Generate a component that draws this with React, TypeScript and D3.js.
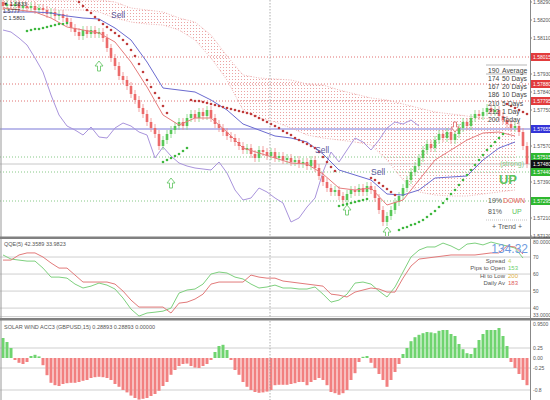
import React from "react";
import * as d3 from "d3";

// ---------- main price data (one close per bar) ----------
const firstOpen = 1.5829;
const closes = [
  1.5827, 1.5828, 1.5827, 1.5828, 1.5826, 1.5827, 1.5826, 1.5827, 1.5825, 1.5826,
  1.5825, 1.5823, 1.5824, 1.5822, 1.5823, 1.5821, 1.5819, 1.5816, 1.5814, 1.5812,
  1.5815, 1.5813, 1.5815, 1.5813, 1.5814, 1.5811, 1.5806, 1.5801, 1.5797, 1.5792,
  1.579, 1.5787, 1.5783, 1.578, 1.5776, 1.5773, 1.5769, 1.5766, 1.5763, 1.5757,
  1.576, 1.5763, 1.5765, 1.5767, 1.5769, 1.5767, 1.5771, 1.5773, 1.5771, 1.5774,
  1.5772, 1.5775, 1.5771, 1.5768, 1.5766, 1.5764, 1.5762, 1.5761, 1.5759, 1.5757,
  1.5755, 1.5756, 1.5753, 1.5751, 1.5755, 1.5754, 1.5752, 1.5754, 1.5751, 1.5752,
  1.575, 1.5751, 1.5749, 1.575, 1.5748, 1.5749, 1.5747, 1.575, 1.5746, 1.5742,
  1.5739, 1.5736, 1.5734, 1.5735, 1.5732, 1.573, 1.5733, 1.5735, 1.5734, 1.5736,
  1.5734, 1.5737, 1.5735, 1.5731, 1.5725, 1.5719, 1.5722, 1.5725, 1.5729, 1.5732,
  1.5736, 1.574, 1.5744, 1.5747, 1.5751, 1.5755, 1.5758, 1.5756, 1.576, 1.5763,
  1.5761, 1.5764, 1.576, 1.5763, 1.5766, 1.5769, 1.5767, 1.5771, 1.5773, 1.5772,
  1.5774, 1.5776, 1.5774, 1.5775, 1.5772, 1.577, 1.5768, 1.5766, 1.5767, 1.5764,
  1.5757, 1.5748,
];
const wickSize = 0.0002;

// lines sampled every 4 bars
const kijunBlue = [
  1.5824, 1.5824, 1.5824, 1.58235, 1.5822, 1.5821, 1.58205, 1.5816, 1.581, 1.5799,
  1.5786, 1.5785, 1.5784, 1.578, 1.5775, 1.5768, 1.5765, 1.5762, 1.5761, 1.5759,
  1.5753, 1.5745, 1.57425, 1.574, 1.5733, 1.57325, 1.5735, 1.5741, 1.57415, 1.5742,
  1.575, 1.5756, 1.5759,
];
const tenkanRed = [
  1.5826, 1.5825, 1.5824, 1.5821, 1.58165, 1.5815, 1.58135, 1.5809, 1.5799, 1.57865,
  1.57725, 1.57675, 1.5771, 1.5771, 1.5764, 1.5756, 1.57535, 1.5751, 1.57485, 1.5748,
  1.5743, 1.5736, 1.5735, 1.5736, 1.57275, 1.573, 1.574, 1.575, 1.5755, 1.576,
  1.57635, 1.5764, 1.5762,
];
// lagging line sampled every 2 bars
const chikouPurple = [
  1.5815, 1.5814, 1.5811, 1.58075, 1.5801, 1.5794, 1.57825, 1.57725, 1.5767, 1.5765,
  1.57625, 1.57665, 1.57615, 1.5761, 1.5766, 1.57685, 1.5767, 1.5764, 1.57625, 1.5751,
  1.57565, 1.5752, 1.57485, 1.5747, 1.5746, 1.57455, 1.5745, 1.5749, 1.57435, 1.5735,
  1.573, 1.5731, 1.5736, 1.5734, 1.5731, 1.57285, 1.5719, 1.5721, 1.57265, 1.5731,
  1.5744, 1.5754, 1.5749, 1.5755, 1.5761, 1.5759, 1.5755, 1.576, 1.5766, 1.5769,
  1.5768, 1.577, 1.5767,
];
// cloud sampled every 4 bars
const cloudTop = [
  1.583, 1.583, 1.583, 1.583, 1.583, 1.583, 1.583, 1.5829, 1.5826, 1.5825,
  1.5824, 1.5821, 1.5819, 1.58125, 1.5802, 1.57925, 1.5791, 1.57905, 1.579, 1.5788,
  1.57875, 1.5785, 1.5783, 1.5781, 1.578, 1.5778, 1.5776, 1.5774, 1.5773, 1.5772,
  1.5771, 1.577, 1.5769,
];
const cloudBottom = [
  1.5826, 1.5826, 1.58255, 1.5825, 1.5825, 1.5825, 1.5824, 1.5821, 1.5819, 1.5818,
  1.58175, 1.5815, 1.581, 1.5801, 1.579, 1.5775, 1.5771, 1.5769, 1.5766, 1.57625,
  1.5761, 1.576, 1.5759, 1.57575, 1.575, 1.574, 1.5734, 1.57325, 1.5732, 1.5732,
  1.5733, 1.5734, 1.5735,
];

// parabolic SAR runs
const sarUpA = [1.58145, 1.5815, 1.58155, 1.58155, 1.5816, 1.58165, 1.5817, 1.58175, 1.5818, 1.5818, 1.58185];
const sarDownA = [
  1.5829, 1.5827, 1.5825, 1.58235, 1.58215, 1.582, 1.5818, 1.58165, 1.5815, 1.58135,
  1.5812, 1.581, 1.5808, 1.5805, 1.5802, 1.5798, 1.5794, 1.579, 1.57865, 1.57835,
  1.5781, 1.5777, 1.57735,
];
const sarUpB = [1.5749, 1.575, 1.5751, 1.5752, 1.5753, 1.57545, 1.5756];
const sarDownB = [
  1.578, 1.57795, 1.57795, 1.5779, 1.57785, 1.5778, 1.57775, 1.5777, 1.57765, 1.5776,
  1.57755, 1.5775, 1.57745, 1.5774, 1.57735, 1.5773, 1.5772, 1.5771, 1.577, 1.5769,
  1.5768, 1.5767, 1.5766, 1.57645, 1.57635, 1.57625, 1.5761, 1.576, 1.5759, 1.5758,
  1.5757, 1.5756, 1.5754, 1.57515, 1.5749, 1.57465, 1.57445,
];
const sarUpC = [1.5727, 1.57275, 1.5728, 1.57285, 1.5729, 1.57295, 1.573, 1.57305];
const sarDownC = [1.5741, 1.574, 1.57385, 1.5737, 1.57355, 1.5734, 1.57325];
const sarUpD = [
  1.5715, 1.5716, 1.57165, 1.57175, 1.5718, 1.5719, 1.572, 1.57215, 1.5723, 1.57245,
  1.57265, 1.57285, 1.57305, 1.5733, 1.5735, 1.57375, 1.574, 1.57425, 1.5745, 1.57475,
  1.575, 1.57525, 1.5755, 1.5757, 1.5759, 1.5761, 1.5763,
];
const sarDownD = [1.5778, 1.5777, 1.5776, 1.5775, 1.5774, 1.5773];
const sarRuns = [
  { start: 6, up: true, values: sarUpA },
  { start: 19, up: false, values: sarDownA },
  { start: 40, up: true, values: sarUpB },
  { start: 47, up: false, values: sarDownB },
  { start: 84, up: true, values: sarUpC },
  { start: 92, up: false, values: sarDownC },
  { start: 99, up: true, values: sarUpD },
  { start: 126, up: false, values: sarDownD },
];

const sellSignals = [
  { bar: 27, price: 1.5821 },
  { bar: 78, price: 1.57535 },
  { bar: 92, price: 1.57425 },
];
const upArrows = [
  { bar: 24, price: 1.5797 },
  { bar: 42, price: 1.57385 },
  { bar: 86, price: 1.5725 },
  { bar: 96, price: 1.5714 },
];
const downArrows = [{ bar: 113, price: 1.57665 }];

const redLevels = [1.58015, 1.5788, 1.57795];
const blueLevels = [1.57655];
const greenLevels = [1.57515, 1.5744, 1.57295];
const priceTicks = [
  1.5829, 1.582, 1.5811, 1.5802, 1.5793, 1.5784, 1.5775, 1.5766, 1.5757, 1.5748,
  1.5739, 1.573, 1.5721, 1.5712,
];

const statsNums = ["190", "174", "167", "186", "210", "212", "200"];
const statsLabels = ["Average", "50 Days", "20 Days", "10 Days", "5 Days", "1 Day", "Today"];

// ---------- oscillator (every 2 bars) ----------
const qqeFast = [
  71.2, 68.8, 68.2, 67.6, 67.6, 63.5, 58.2, 58.2, 57.6, 54.1,
  51.8, 52.9, 54.7, 53.5, 51.2, 45.9, 39.4, 35.3, 37.1, 37.6,
  38.2, 40.0, 48.8, 50.6, 51.2, 54.1, 60.0, 61.2, 60.6, 58.2,
  57.1, 54.1, 51.8, 52.4, 53.5, 51.8, 51.8, 51.2, 51.2, 52.4,
  48.2, 43.5, 44.7, 48.2, 54.7, 55.3, 54.1, 50.0, 46.5, 52.4,
  61.2, 70.0, 74.1, 75.9, 75.9, 78.2, 76.5, 74.1, 77.6, 78.2,
  77.1, 78.8, 77.6, 76.5, 75.3, 69.4,
];
const qqeSlow = [
  68.2, 68.2, 71.2, 72.4, 72.4, 70.0, 66.5, 63.5, 63.5, 59.4,
  55.3, 55.3, 55.3, 55.3, 54.1, 50.0, 44.7, 40.6, 40.6, 40.6,
  40.6, 37.1, 42.9, 43.5, 45.3, 48.2, 54.1, 55.3, 55.3, 55.3,
  55.3, 59.4, 58.2, 57.6, 57.6, 55.9, 55.3, 54.7, 54.1, 53.5,
  52.9, 48.2, 47.6, 46.5, 49.4, 50.6, 51.8, 51.2, 49.4, 49.4,
  57.6, 64.7, 68.8, 69.4, 70.0, 70.6, 71.2, 71.2, 71.2, 71.2,
  71.8, 72.4, 72.4, 76.5, 75.9, 71.8,
];
const qqeLevels = [70, 60, 50, 40, 35];
const infoLabels = ["Spread", "Pips to Open", "Hi to Low", "Daily Av"];
const infoValues = ["4", "153", "200", "183"];
const infoColors = ["#c8d860", "#6ccf6c", "#e0b040", "#e06060"];

// ---------- histogram ----------
const accel = [
  0.5, 0.4, 0.25, -0.05, -0.12, -0.15, -0.1, 0.05, 0.08, 0.04,
  -0.18, -0.43, -0.62, -0.68, -0.7, -0.65, -0.63, -0.62, -0.62, -0.6,
  -0.57, -0.55, -0.5, -0.48, -0.47, -0.48, -0.5, -0.55, -0.65, -0.72,
  -0.8, -0.86, -0.94, -1.0, -1.04, -1.02, -1.0, -0.95, -0.9, -0.82,
  -0.7, -0.6, -0.42, -0.3, -0.2, -0.15, -0.14, -0.2, -0.24, -0.25,
  -0.2, -0.15, -0.05, 0.15, 0.3, 0.33, 0.2, -0.05, -0.3, -0.42,
  -0.6, -0.72, -0.8, -0.85, -0.87, -0.86, -0.84, -0.8, -0.68, -0.67,
  -0.67, -0.67, -0.65, -0.63, -0.6, -0.6, -0.68, -0.6, -0.55, -0.5,
  -0.55, -0.68, -0.85, -0.88, -0.92, -0.88, -0.8, -0.55, -0.38, -0.1,
  0.03, 0.05, -0.12, -0.25, -0.4, -0.55, -0.72, -0.55, -0.35, -0.15,
  0.1, 0.25, 0.42, 0.52, 0.58, 0.62, 0.65, 0.64, 0.62, 0.68,
  0.7, 0.7, 0.6, 0.55, 0.35, 0.22, 0.12, 0.1, 0.25, 0.45,
  0.6, 0.7, 0.7, 0.7, 0.75, 0.55, 0.3, -0.1, -0.25, -0.4,
  -0.55, -0.68,
];
const accelLevels = [0.25, -0.25, -0.8];

const FONT = "'Liberation Sans', Arial, sans-serif";
const PR = 530;

export default function App() {
  const n = closes.length;
  const x = d3.scaleLinear().domain([0, n - 1]).range([3, 527]);
  const yP = d3.scaleLinear().domain([1.57115, 1.583]).range([237, 0]);
  const yO = d3.scaleLinear().domain([33, 80]).range([320, 240]);
  const yH = d3.scaleLinear().domain([-1.05, 0.95]).range([400, 320]);

  const lineEvery = (arr: number[], step: number, ys: d3.ScaleLinear<number, number>) =>
    d3.line<number>().x((_, i) => x(i * step)).y((d) => ys(d))(arr) || "";

  const cloudPath =
    d3
      .area<number>()
      .x((_, i) => x(i * 4))
      .y0((_, i) => yP(cloudBottom[i]))
      .y1((d) => yP(d))(cloudTop) || "";

  const candles = closes.map((c, i) => {
    const o = i === 0 ? firstOpen : closes[i - 1];
    const up = c > o;
    const top = yP(Math.max(o, c));
    const bot = yP(Math.min(o, c));
    return { i, up, top, bot, hi: yP(Math.max(o, c) + wickSize), lo: yP(Math.min(o, c) - wickSize) };
  });

  const arrowUp = "M0,-5 L4,0 L1.5,0 L1.5,5 L-1.5,5 L-1.5,0 L-4,0 Z";
  const arrowDown = "M0,5 L4,0 L1.5,0 L1.5,-5 L-1.5,-5 L-1.5,0 L-4,0 Z";

  const fmt5 = d3.format(".5f");
  const bw = 2.6;

  return (
    <svg
      width={550}
      height={400}
      style={{ position: "absolute", left: 0, top: 0, background: "#fff" }}
      fontFamily={FONT}
    >
      <defs>
        <pattern id="cloudDots" width={3} height={3} patternUnits="userSpaceOnUse">
          <rect x={1} y={1} width={1} height={1} fill="#eba3a3" />
        </pattern>
        <clipPath id="mainClip">
          <rect x={0} y={0} width={PR} height={236} />
        </clipPath>
        <clipPath id="oscClip">
          <rect x={0} y={239} width={PR} height={79} />
        </clipPath>
        <clipPath id="histClip">
          <rect x={0} y={321} width={PR} height={79} />
        </clipPath>
      </defs>
      <rect x={0} y={0} width={550} height={400} fill="#fff" />

      {/* ---------- MAIN PANEL ---------- */}
      <g clipPath="url(#mainClip)">
        {redLevels.map((p, k) => (
          <line key={"rl" + k} x1={0} x2={PR} y1={yP(p)} y2={yP(p)} stroke="#e07070" strokeWidth={1} strokeDasharray="1,2" />
        ))}
        {greenLevels.map((p, k) => (
          <line key={"gl" + k} x1={0} x2={PR} y1={yP(p)} y2={yP(p)} stroke="#86c886" strokeWidth={1} strokeDasharray="1,2" />
        ))}
        <line x1={0} x2={PR} y1={yP(closes[n - 1])} y2={yP(closes[n - 1])} stroke="#c8c8c8" strokeWidth={1} />
        {blueLevels.map((p, k) => (
          <line key={"bl" + k} x1={0} x2={PR} y1={yP(p)} y2={yP(p)} stroke="#7a78d8" strokeWidth={1.2} />
        ))}

        <path d={cloudPath} fill="url(#cloudDots)" stroke="none" />
        <path d={lineEvery(cloudTop, 4, yP)} fill="none" stroke="#e8a0a0" strokeWidth={0.8} strokeDasharray="1,1.5" />
        <path d={lineEvery(cloudBottom, 4, yP)} fill="none" stroke="#e8a0a0" strokeWidth={0.8} strokeDasharray="1,1.5" />

        <path d={lineEvery(chikouPurple, 2, yP)} fill="none" stroke="#a994dc" strokeWidth={1} />

        {candles.map((c) => (
          <g key={"c" + c.i}>
            <line
              x1={x(c.i)}
              x2={x(c.i)}
              y1={c.hi}
              y2={c.lo}
              stroke={c.up ? "#7fd67f" : "#ef8c8c"}
              strokeWidth={0.8}
            />
            <rect
              x={x(c.i) - bw / 2}
              y={c.top}
              width={bw}
              height={Math.max(1, c.bot - c.top)}
              fill={c.up ? "#58c858" : "#ec6a6a"}
            />
          </g>
        ))}

        <path d={lineEvery(kijunBlue, 4, yP)} fill="none" stroke="#6b6bd0" strokeWidth={1} />
        <path d={lineEvery(tenkanRed, 4, yP)} fill="none" stroke="#e67c7c" strokeWidth={1} />

        {sarRuns.map((r, k) =>
          r.values.map((v, j) => (
            <circle
              key={"s" + k + "_" + j}
              cx={x(r.start + j)}
              cy={yP(v)}
              r={1.3}
              fill={r.up ? "#3fb83f" : "#c03c3c"}
            />
          ))
        )}

        {upArrows.map((a, k) => (
          <path key={"ua" + k} d={arrowUp} transform={`translate(${x(a.bar)},${yP(a.price)})`} fill="#fff" stroke="#6cc86c" strokeWidth={0.9} />
        ))}
        {downArrows.map((a, k) => (
          <path key={"da" + k} d={arrowDown} transform={`translate(${x(a.bar)},${yP(a.price)})`} fill="#fff" stroke="#e07070" strokeWidth={0.9} />
        ))}
        {sellSignals.map((s, k) => (
          <text key={"sell" + k} x={x(s.bar)} y={yP(s.price)} fontSize={8.5} fill="#5a5aa0">
            Sell
          </text>
        ))}

        {/* stats block */}
        <line x1={486} x2={527} y1={65} y2={65} stroke="#999" strokeWidth={0.7} />
        <line x1={486} x2={527} y1={74} y2={74} stroke="#999" strokeWidth={0.7} />
        {statsNums.map((s, k) => (
          <g key={"st" + k}>
            <text x={488} y={72.5 + k * 8.3} fontSize={6.8} fill="#444">
              {s}
            </text>
            <text x={502} y={72.5 + k * 8.3} fontSize={6.8} fill="#444">
              {statsLabels[k]}
            </text>
          </g>
        ))}
        <text x={512} y={166} fontSize={7} fill="#86c886" textAnchor="middle">
          (strong)
        </text>
        <text x={508} y={184} fontSize={13} fontWeight="bold" fill="#5cc45c" textAnchor="middle">
          UP
        </text>
        <text x={488} y={203} fontSize={7} fill="#555">
          19%
        </text>
        <text x={503} y={203} fontSize={7} fill="#e05858">
          DOWN
        </text>
        <text x={488} y={214} fontSize={7} fill="#555">
          81%
        </text>
        <text x={512} y={214} fontSize={7} fill="#5cc45c">
          UP
        </text>
        <line x1={486} x2={527} y1={220} y2={220} stroke="#aaa" strokeWidth={0.7} strokeDasharray="1,1" />
        <text x={507} y={229} fontSize={7} fill="#555" textAnchor="middle">
          +   Trend   +
        </text>

        {/* top-left ohlc */}
        <text x={3} y={6} fontSize={5.5} fill="#333">▼ 1.5833</text>
        <text x={3} y={13} fontSize={5.5} fill="#333">1.5777</text>
        <text x={3} y={20} fontSize={5.5} fill="#333">C 1.5801</text>
      </g>

      {/* ---------- OSCILLATOR PANEL ---------- */}
      {qqeLevels.map((v, k) => (
        <line key={"ql" + k} x1={0} x2={PR} y1={yO(v)} y2={yO(v)} stroke="#cfcfcf" strokeWidth={1} />
      ))}
      <g clipPath="url(#oscClip)">
        <path d={lineEvery(qqeFast, 2, yO)} fill="none" stroke="#7ed07e" strokeWidth={1} />
        <path d={lineEvery(qqeSlow, 2, yO)} fill="none" stroke="#e27a7a" strokeWidth={1} />
      </g>
      <text x={4} y={246} fontSize={5.5} fill="#555">
        QQE(5) 42.3589 33.9823
      </text>
      <text x={528} y={253} fontSize={12} fill="#6f9be0" textAnchor="end">
        134.32
      </text>
      {infoLabels.map((l, k) => (
        <g key={"inf" + k}>
          <text x={505} y={262.5 + k * 7.6} fontSize={6} fill="#555" textAnchor="end">
            {l}
          </text>
          <text x={508} y={262.5 + k * 7.6} fontSize={6} fill={infoColors[k]}>
            {infoValues[k]}
          </text>
        </g>
      ))}

      {/* ---------- HISTOGRAM PANEL ---------- */}
      {accelLevels.map((v, k) => (
        <line key={"al" + k} x1={0} x2={PR} y1={yH(v)} y2={yH(v)} stroke="#cfcfcf" strokeWidth={1} />
      ))}
      <g clipPath="url(#histClip)">
        {accel.map((v, i) => (
          <rect
            key={"h" + i}
            x={x(i) - 1.5}
            y={Math.min(yH(v), yH(0))}
            width={3}
            height={Math.abs(yH(v) - yH(0))}
            fill={v >= 0 ? "#6fd46f" : "#f28080"}
          />
        ))}
      </g>
      <text x={4} y={329} fontSize={5.5} fill="#555">
        SOLAR WIND ACC3 (GBPUSD,15) 0.28893 0.28893 0.00000
      </text>

      {/* ---------- frame, separators ---------- */}
      <line x1={270} x2={270} y1={0} y2={400} stroke="#999" strokeWidth={0.8} strokeDasharray="1.5,1.5" />
      <line x1={1} x2={1} y1={0} y2={400} stroke="#999" strokeWidth={1} />
      <line x1={PR + 0.5} x2={PR + 0.5} y1={0} y2={400} stroke="#888" strokeWidth={1} />
      <rect x={0} y={236.5} width={550} height={2.5} fill="#808080" />
      <rect x={0} y={318} width={550} height={2.5} fill="#808080" />

      {/* ---------- right axes ---------- */}
      {priceTicks.map((p, k) => (
        <g key={"pt" + k}>
          <line x1={PR} x2={PR + 2} y1={yP(p)} y2={yP(p)} stroke="#888" />
          <text x={533} y={yP(p) + 2} fontSize={5} fill="#555">
            {fmt5(p)}
          </text>
        </g>
      ))}
      {redLevels.map((p, k) => (
        <g key={"rb" + k}>
          <rect x={531} y={yP(p) - 4} width={19} height={8} fill="#e23c3c" />
          <text x={533} y={yP(p) + 2} fontSize={5} fill="#fff">{fmt5(p)}</text>
        </g>
      ))}
      {blueLevels.map((p, k) => (
        <g key={"bb" + k}>
          <rect x={531} y={yP(p) - 4} width={19} height={8} fill="#3434d8" />
          <text x={533} y={yP(p) + 2} fontSize={5} fill="#fff">{fmt5(p)}</text>
        </g>
      ))}
      {greenLevels.map((p, k) => (
        <g key={"gb" + k}>
          <rect x={531} y={yP(p) - 4} width={19} height={8} fill="#2fb82f" />
          <text x={533} y={yP(p) + 2} fontSize={5} fill="#fff">{fmt5(p)}</text>
        </g>
      ))}
      <rect x={531} y={yP(closes[n - 1]) - 4} width={19} height={8} fill="#111" />
      <text x={533} y={yP(closes[n - 1]) + 2} fontSize={5} fill="#fff">
        {fmt5(closes[n - 1])}
      </text>

      <text x={533} y={244} fontSize={5} fill="#555">80.0000</text>
      {qqeLevels.slice(0, 4).map((v, k) => (
        <text key={"qt" + k} x={533} y={yO(v) + 2} fontSize={5} fill="#555">
          {v}
        </text>
      ))}
      <text x={533} y={317} fontSize={5} fill="#555">33.0000</text>

      <text x={533} y={326} fontSize={5} fill="#555">0.9500</text>
      {accelLevels.map((v, k) => (
        <text key={"at" + k} x={533} y={yH(v) + 2} fontSize={5} fill="#555">
          {v}
        </text>
      ))}
      <text x={533} y={yH(0) + 2} fontSize={5} fill="#555">0.00</text>
    </svg>
  );
}
